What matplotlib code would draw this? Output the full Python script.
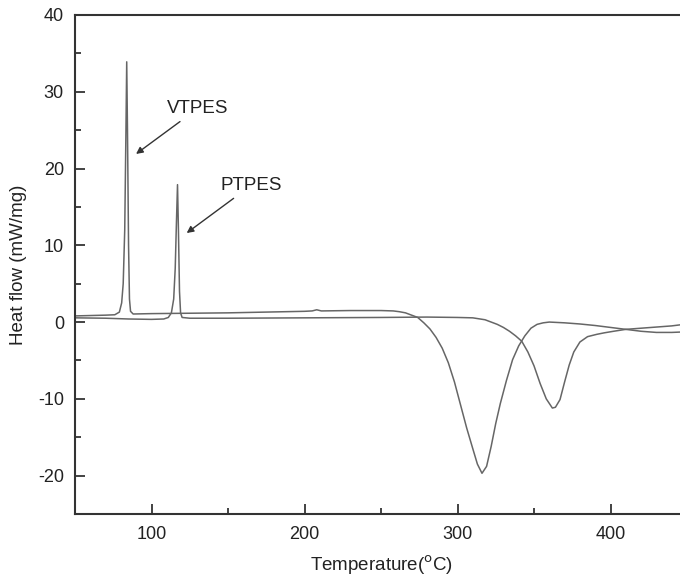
import matplotlib
matplotlib.use("Agg")
import matplotlib.pyplot as plt
from matplotlib.ticker import MultipleLocator

plt.rcParams['font.family'] = ['Liberation Sans', 'DejaVu Sans']
plt.rcParams['axes.unicode_minus'] = False

# VTPES curve
vt_temp = [50, 60, 70, 76, 79, 80.5, 81.5, 82.5, 83.3, 83.8, 84.3, 85, 85.6, 86.3, 88,
           100, 150, 200, 205, 208, 211, 230, 250, 258, 262, 266, 270, 274, 278, 282,
           286, 290, 294, 298, 302, 306, 310, 313, 316, 319, 322, 325, 328, 332, 336,
           340, 344, 348, 352, 356, 360, 370, 380, 390, 400, 410, 420, 430, 440, 446]
vt_flow = [0.8, 0.85, 0.9, 0.95, 1.3, 2.5, 5, 12, 25, 33.9, 25, 10, 3, 1.4, 1.05,
           1.1, 1.2, 1.4, 1.45, 1.6, 1.45, 1.5, 1.5, 1.45, 1.35, 1.2, 0.9, 0.6, -0.1, -0.9,
           -2.0, -3.4, -5.3, -7.8, -10.8, -13.8, -16.5, -18.5, -19.7, -18.8, -16.2, -13.2, -10.6, -7.6, -4.9,
           -3.1, -1.8, -0.8, -0.3, -0.1, 0.0, -0.1, -0.25, -0.45, -0.7, -0.95, -1.2, -1.35, -1.35, -1.3]

# PTPES curve
pt_temp = [50, 70, 85, 100, 108, 111, 113, 114.5, 115.5, 116.3, 117, 117.6, 118.3, 119, 120,
           125, 150, 200, 250, 280, 300, 310, 318, 322, 326, 330, 334, 338, 342, 346,
           350, 354, 358, 362, 364, 367, 370, 373, 376, 380, 385, 391, 396, 402, 410,
           420, 430, 440, 446]
pt_flow = [0.55, 0.5, 0.4, 0.35, 0.4, 0.6, 1.2, 3, 7, 13, 17.9, 12, 4, 1.2, 0.6,
           0.5, 0.5, 0.55, 0.6, 0.65, 0.6, 0.55, 0.3, 0.0, -0.3, -0.7, -1.2, -1.8, -2.5, -3.9,
           -5.7, -8.0, -10.0, -11.2, -11.1, -10.1, -7.8, -5.6, -3.9, -2.6, -1.9, -1.6, -1.4, -1.2, -0.95,
           -0.8, -0.65, -0.5, -0.35]

fig = plt.figure(figsize=(6.8, 5.79), dpi=100)
ax = fig.add_axes([0.1103, 0.1123, 0.9, 0.8618])

ax.plot(vt_temp, vt_flow, color='#666666', lw=1.1)
ax.plot(pt_temp, pt_flow, color='#666666', lw=1.1)

ax.set_xlim(50, 450)
ax.set_ylim(-25, 40)
ax.xaxis.set_major_locator(MultipleLocator(100))
ax.xaxis.set_minor_locator(MultipleLocator(50))
ax.yaxis.set_major_locator(MultipleLocator(10))
ax.yaxis.set_minor_locator(MultipleLocator(5))
ax.tick_params(which='both', direction='in', top=False, right=False, width=1.2,
               labelsize=13, colors='#222222')
ax.tick_params(axis='x', pad=9)
ax.tick_params(axis='y', pad=8)
ax.tick_params(which='major', length=7)
ax.tick_params(which='minor', length=4)
for s in ax.spines.values():
    s.set_linewidth(1.5)
    s.set_color('#333333')
ax.spines['right'].set_visible(False)

ax.set_xlabel('Temperature($^{\\mathrm{o}}$C)', fontsize=13.5, color='#222222', labelpad=7)
ax.set_ylabel('Heat flow (mW/mg)', fontsize=13.5, color='#222222', labelpad=8)

ax.annotate('VTPES', xy=(89.9, 21.9), xytext=(110, 27.8), fontsize=13.5, color='#222222',
            va='center', ha='left',
            arrowprops=dict(arrowstyle='-|>', color='#333333', lw=1, shrinkA=2, shrinkB=0,
                            mutation_scale=10))
ax.annotate('PTPES', xy=(123, 11.6), xytext=(145, 17.8), fontsize=13.5, color='#222222',
            va='center', ha='left',
            arrowprops=dict(arrowstyle='-|>', color='#333333', lw=1, shrinkA=2, shrinkB=0,
                            mutation_scale=10))

fig.savefig('out.png', dpi=100)
